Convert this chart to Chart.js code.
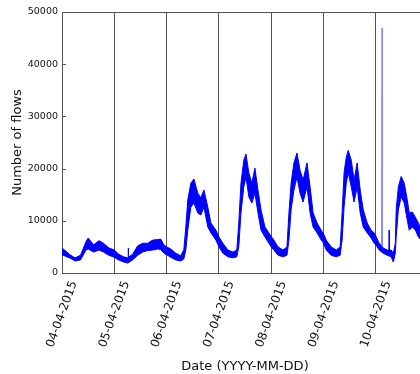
<!DOCTYPE html>
<html lang="en">
<head>
  <meta charset="UTF-8" />
  <title>Number of flows</title>
  <script src="https://cdn.jsdelivr.net/npm/chart.js"></script>
  <style>
    * { margin: 0; padding: 0; box-sizing: border-box; }
    body { background: #fff; width: 420px; height: 374px; overflow: hidden; }
    canvas { display: block; }
  </style>
</head>
<body>
  <canvas id="flowChart" width="428" height="374"></canvas>
  <script>
    // day labels and their position in hours
    const dates = ['04-04-2015', '05-04-2015', '06-04-2015', '07-04-2015', '08-04-2015', '09-04-2015', '10-04-2015'];
    const dayTicks = [0, 24, 48, 72, 96, 120, 144];
    const yTicks = [0, 10000, 20000, 30000, 40000, 50000];

    // hours since 04-04-2015 00:00, with low / high edge of the noisy band
    const hours = [
      0, 4, 6, 8.5, 11, 12, 14.5, 17, 19, 21.5,
      24, 26, 28.3, 30.1, 32.4, 34.7, 37, 39.3, 41.6, 44, 45.3, 46.7,
      48, 49.9, 52.2, 54.5, 55.9, 56.8, 57.7, 59.1, 60.5, 62.3, 63.7, 65.1, 66.9, 68.3, 70.6,
      72, 73.8, 76.1, 78.4, 80.2, 81.1, 82.1, 83.4, 84.4, 85.7, 87.1, 88.5, 89.9, 91.3, 93.1, 94.9,
      96, 97.2, 99.1, 101.4, 103.2, 104.1, 105.1, 106.4, 107.8, 109.2, 110.6, 112.4, 113.8, 115.2, 117, 118.9,
      120, 121.2, 123.5, 125.8, 127.6, 128.5, 129.4, 130.4, 131.3, 132.7, 134, 135.4, 136.8, 138.2, 140, 141.8, 143.2,
      144.1, 145.5, 147.3, 149.2, 151, 152, 152.9, 153.3, 154.3, 155.6, 157, 158.4, 159.3, 160.7, 162.1, 163.5, 165
    ];
    const lower = [
      3500, 2800, 2300, 2500, 4400, 4600, 4000, 4400, 4000, 3400,
      3000, 2500, 2100, 1900, 2500, 3400, 4000, 4300, 4400, 4600, 4500, 3800,
      3500, 3000, 2500, 2300, 2700, 4400, 8200, 12600, 13400, 11500, 11100, 12600, 8800, 7700, 6300,
      5000, 3800, 3100, 2900, 3100, 5000, 11500, 16500, 18400, 14600, 13400, 15300, 11500, 8200, 6900, 5700,
      5000, 4400, 3400, 3100, 3400, 6300, 12100, 15900, 18400, 15300, 13600, 16500, 11500, 8800, 7700, 6300,
      5700, 4400, 3400, 3100, 3400, 6300, 12600, 17200, 19200, 16500, 13600, 16500, 11500, 8800, 7700, 6700, 5700,
      5300, 4400, 3800, 3400, 3100, 2100, 3800, 6900, 12100, 14600, 13400, 10100, 8200, 8800, 8200, 6900, 6200
    ];
    const upper = [
      4800, 3400, 2900, 3400, 6000, 6700, 5400, 6200, 5700, 4800,
      4400, 3600, 3100, 2900, 3600, 5200, 5700, 5700, 6300, 6400, 6500, 5400,
      5000, 4600, 3800, 3300, 4500, 8800, 14000, 17200, 18000, 15300, 14400, 15900, 12600, 9600, 8200,
      6900, 5700, 4400, 4000, 4400, 9600, 17200, 21600, 22800, 19200, 17200, 20100, 15900, 12100, 8800, 7700,
      7000, 6300, 5000, 4400, 5000, 11500, 17200, 21100, 23000, 19700, 17800, 21100, 16500, 11500, 9600, 8200,
      7500, 6300, 5000, 4400, 5000, 11500, 19200, 22200, 23500, 21600, 17800, 21100, 15900, 12100, 9600, 8200, 7700,
      7000, 5700, 4800, 4400, 4400, 3800, 5700, 12100, 16500, 18500, 17200, 14000, 11500, 11700, 10700, 9600, 8000
    ];

    // short spikes
    const spikeHours = [30.3, 30.4, 30.5, 30.6, 150.0, 150.1, 150.2];
    const spikeValues = [2800, 4800, 2800, null, 4000, 8200, 4000];
    const bigSpikeHours = [146.7, 146.8, 146.9];
    const bigSpikeValues = [4000, 47000, 4000];

    const pts = (xs, ys) => xs.map((x, i) => ({ x: x, y: ys[i] }));
    const lineColor = '#555';

    // top spine + inward y ticks like the original plot
    const frame = {
      id: 'frame',
      afterDraw(chart) {
        const { ctx, chartArea: a, scales: { y } } = chart;
        ctx.save();
        ctx.strokeStyle = lineColor;
        ctx.lineWidth = 1;
        ctx.beginPath();
        ctx.moveTo(a.left, Math.round(a.top) + 0.5);
        ctx.lineTo(a.right, Math.round(a.top) + 0.5);
        yTicks.forEach(v => {
          const py = Math.round(y.getPixelForValue(v)) + 0.5;
          ctx.moveTo(a.left, py);
          ctx.lineTo(a.left + 4, py);
        });
        ctx.stroke();
        ctx.restore();
      }
    };

    const ctx = document.getElementById('flowChart').getContext('2d');
    new Chart(ctx, {
      type: 'line',
      data: {
        datasets: [
          {
            data: pts(hours, lower),
            borderColor: '#0000ff',
            borderWidth: 1,
            pointRadius: 0,
            fill: false
          },
          {
            data: pts(hours, upper),
            borderColor: '#0000ff',
            backgroundColor: '#0000ff',
            borderWidth: 1,
            pointRadius: 0,
            fill: '-1'
          },
          {
            data: pts(spikeHours, spikeValues),
            borderColor: '#0000ff',
            borderWidth: 1,
            pointRadius: 0,
            spanGaps: false,
            fill: false
          },
          {
            data: pts(bigSpikeHours, bigSpikeValues),
            borderColor: '#7070ff',
            borderWidth: 1.2,
            pointRadius: 0,
            fill: false
          }
        ]
      },
      options: {
        responsive: false,
        animation: false,
        layout: { padding: { top: 12, left: 0, right: 0, bottom: 0 } },
        plugins: {
          legend: { display: false },
          tooltip: { enabled: false }
        },
        scales: {
          x: {
            type: 'linear',
            min: 0,
            max: 167.9,
            afterBuildTicks: scale => { scale.ticks = dayTicks.map(v => ({ value: v })); },
            afterFit: scale => { scale.height = 101; },
            grid: { color: lineColor, lineWidth: 1, drawTicks: false },
            border: { color: lineColor, width: 1 },
            ticks: {
              minRotation: 70,
              maxRotation: 70,
              autoSkip: false,
              padding: 6,
              labelOffset: 12,
              color: '#111',
              font: { family: 'DejaVu Sans', size: 12 },
              callback: value => dates[dayTicks.indexOf(value)]
            },
            title: {
              display: true,
              text: 'Date (YYYY-MM-DD)',
              color: '#111',
              font: { family: 'DejaVu Sans', size: 13 },
              padding: { top: 10, bottom: 0 }
            }
          },
          y: {
            min: 0,
            max: 50000,
            afterBuildTicks: scale => { scale.ticks = yTicks.map(v => ({ value: v })); },
            afterFit: scale => { scale.width = 62; },
            grid: { drawOnChartArea: false, drawTicks: false },
            border: { color: lineColor, width: 1 },
            ticks: {
              padding: 4,
              color: '#111',
              font: { family: 'DejaVu Sans', size: 9.5 },
              callback: value => String(value)
            },
            title: {
              display: true,
              text: 'Number of flows',
              color: '#111',
              font: { family: 'DejaVu Sans', size: 13 },
              padding: { top: 10, bottom: 0 }
            }
          }
        }
      },
      plugins: [frame]
    });
  </script>
</body>
</html>
